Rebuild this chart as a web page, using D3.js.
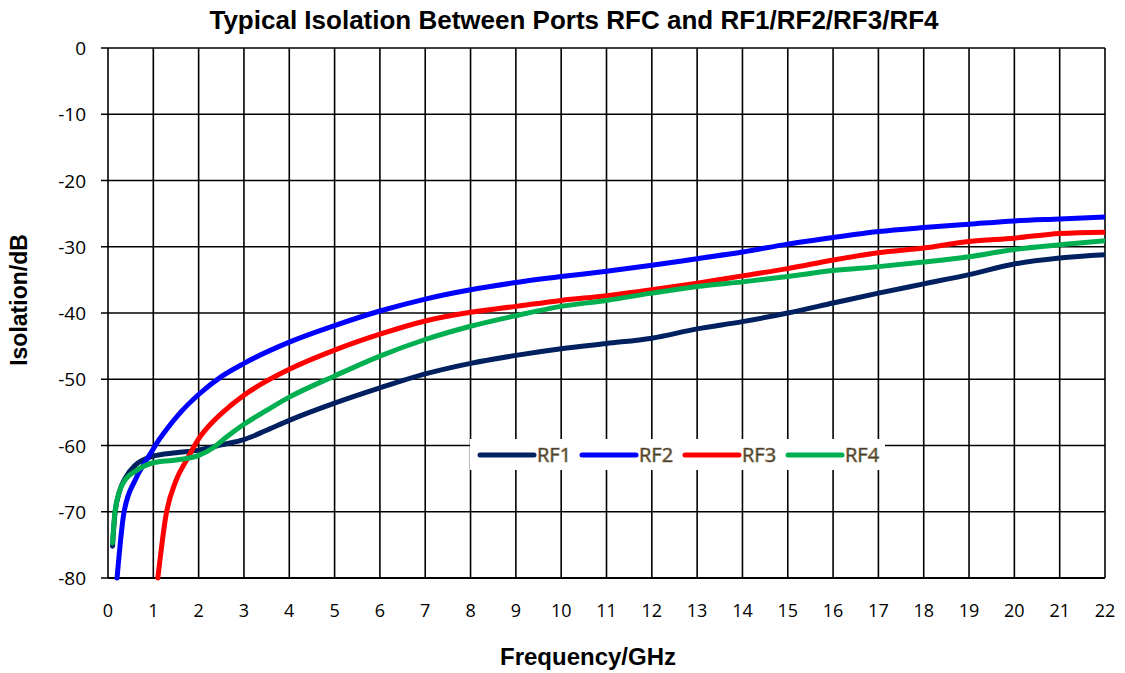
<!DOCTYPE html>
<html>
<head>
<meta charset="utf-8">
<script src="https://cdn.jsdelivr.net/npm/d3@7"></script>
<style>
  body { margin: 0; background: #fff; }
  svg { display: block; }
</style>
</head>
<body>
<svg id="chart" width="1125" height="673"></svg>
<script>
// frequency (GHz) / isolation (dB)
const rf1Freq = [0.1, 0.15, 0.25, 0.4, 0.6, 1, 1.5, 2, 2.5, 3, 3.5, 4, 5, 6, 7, 8, 9, 10, 11, 12, 13, 14, 15, 16, 17, 18, 19, 20, 21, 22];
const rf1Iso = [-75.2, -70.5, -67, -64.7, -63, -61.6, -61.1, -60.7, -59.9, -59.1, -57.7, -56.2, -53.6, -51.3, -49.2, -47.6, -46.4, -45.4, -44.6, -43.8, -42.4, -41.3, -40, -38.5, -37, -35.6, -34.2, -32.6, -31.7, -31.2];

const rf2Freq = [0.2, 0.35, 0.6, 0.84, 1, 1.15, 1.3, 1.6, 2, 2.5, 3, 4, 5, 6, 7, 8, 9, 10, 11, 12, 13, 14, 15, 16, 17, 18, 19, 20, 21, 22];
const rf2Iso = [-80, -70.2, -65.2, -62.3, -60.5, -58.9, -57.5, -55, -52.3, -49.6, -47.6, -44.4, -41.9, -39.7, -37.9, -36.5, -35.4, -34.5, -33.7, -32.8, -31.8, -30.8, -29.6, -28.6, -27.7, -27.1, -26.6, -26.1, -25.8, -25.5];

const rf3Freq = [1.1, 1.28, 1.5, 1.75, 2, 2.33, 2.7, 3, 4, 5, 6, 7, 8, 9, 10, 11, 12, 13, 14, 15, 16, 17, 18, 19, 20, 21, 22];
const rf3Iso = [-80, -70.5, -65.3, -62, -59, -56.3, -54, -52.4, -48.5, -45.6, -43.2, -41.2, -39.9, -39, -38.1, -37.4, -36.5, -35.5, -34.4, -33.3, -32, -30.9, -30.2, -29.2, -28.7, -28, -27.8];

const rf4Freq = [0.1, 0.15, 0.25, 0.4, 0.6, 1, 1.5, 2, 2.33, 2.6, 3, 3.5, 4, 5, 6, 7, 8, 9, 10, 11, 12, 13, 14, 15, 16, 17, 18, 19, 20, 21, 22];
const rf4Iso = [-74.7, -70.3, -67, -65, -63.9, -62.6, -62.2, -61.5, -60.3, -58.8, -56.8, -54.7, -52.7, -49.5, -46.5, -44, -42, -40.4, -39, -38.1, -37, -36, -35.3, -34.5, -33.6, -33, -32.3, -31.5, -30.4, -29.7, -29.1];

const seriesNames = ["RF1", "RF2", "RF3", "RF4"];
const seriesColors = ["#002060", "#0000ff", "#ff0000", "#00b050"];
const xTicks = d3.range(0, 23, 1);
const yTicks = [0, -10, -20, -30, -40, -50, -60, -70, -80];

const series = [
  {name: seriesNames[0], color: seriesColors[0], pts: rf1Freq.map((f, i) => [f, rf1Iso[i]])},
  {name: seriesNames[1], color: seriesColors[1], pts: rf2Freq.map((f, i) => [f, rf2Iso[i]])},
  {name: seriesNames[2], color: seriesColors[2], pts: rf3Freq.map((f, i) => [f, rf3Iso[i]])},
  {name: seriesNames[3], color: seriesColors[3], pts: rf4Freq.map((f, i) => [f, rf4Iso[i]])}
];

const svg = d3.select("#chart");
const plotLeft = 108, plotRight = 1105, plotTop = 48, plotBottom = 578;

const x = d3.scaleLinear().domain([0, 22]).range([plotLeft, plotRight]);
const y = d3.scaleLinear().domain([-80, 0]).range([plotBottom, plotTop]);

// grid
svg.append("g").selectAll("line").data(xTicks).join("line")
  .attr("x1", d => x(d)).attr("x2", d => x(d))
  .attr("y1", plotTop).attr("y2", plotBottom)
  .attr("stroke", "#000").attr("stroke-width", 1.6);
svg.append("g").selectAll("line").data(yTicks).join("line")
  .attr("x1", plotLeft - 7).attr("x2", plotRight)
  .attr("y1", d => y(d)).attr("y2", d => y(d))
  .attr("stroke", "#000").attr("stroke-width", 1.6);
svg.append("line")
  .attr("x1", plotLeft).attr("x2", plotRight).attr("y1", plotBottom).attr("y2", plotBottom)
  .attr("stroke", "#000").attr("stroke-width", 2.2);

// tick labels
const tickFont = "'Open Sans', 'Noto Sans', sans-serif";
svg.append("g").selectAll("text").data(yTicks).join("text")
  .attr("x", 86).attr("y", d => y(d) + 7)
  .attr("text-anchor", "end")
  .style("font-family", tickFont).style("font-size", "19px").attr("fill", "#000")
  .text(d => d);
svg.append("g").selectAll("text").data(xTicks).join("text")
  .attr("x", d => x(d)).attr("y", 617)
  .attr("text-anchor", "middle")
  .style("font-family", tickFont).style("font-size", "18px").attr("fill", "#000")
  .text(d => d);

// titles
const titleFont = "'Liberation Sans', Arial, sans-serif";
svg.append("text").attr("x", 574).attr("y", 29).attr("text-anchor", "middle")
  .style("font-family", titleFont).style("font-weight", "bold").style("font-size", "26px")
  .text("Typical Isolation Between Ports RFC and RF1/RF2/RF3/RF4");
svg.append("text").attr("x", 588).attr("y", 665).attr("text-anchor", "middle")
  .style("font-family", titleFont).style("font-weight", "bold").style("font-size", "24px")
  .text("Frequency/GHz");
svg.append("text").attr("transform", "translate(27,300) rotate(-90)").attr("text-anchor", "middle")
  .style("font-family", titleFont).style("font-weight", "bold").style("font-size", "23px")
  .text("Isolation/dB");

// curves
svg.append("clipPath").attr("id", "plotClip").append("rect")
  .attr("x", plotLeft).attr("y", plotTop).attr("width", plotRight - plotLeft).attr("height", plotBottom - plotTop + 3);

const line = d3.line()
  .x(d => x(d[0])).y(d => y(d[1]))
  .curve(d3.curveMonotoneX);

svg.append("g").attr("clip-path", "url(#plotClip)")
  .selectAll("path").data(series).join("path")
  .attr("fill", "none")
  .attr("stroke", d => d.color)
  .attr("stroke-width", 5)
  .attr("stroke-linecap", "round")
  .attr("stroke-linejoin", "round")
  .attr("d", d => line(d.pts));

// legend
const legend = svg.append("g");
legend.append("rect").attr("x", 470).attr("y", 439).attr("width", 415).attr("height", 31).attr("fill", "#fff");
const legendX = [480, 582, 685, 788];
series.forEach((s, i) => {
  legend.append("line")
    .attr("x1", legendX[i]).attr("x2", legendX[i] + 54)
    .attr("y1", 455).attr("y2", 455)
    .attr("stroke", s.color).attr("stroke-width", 5).attr("stroke-linecap", "round");
  legend.append("text")
    .attr("x", legendX[i] + 57).attr("y", 462)
    .style("font-family", tickFont).style("font-size", "20px")
    .attr("fill", "#2a2a2a").attr("stroke", "#8a7450").attr("stroke-width", 0.7)
    .text(s.name);
});
</script>
</body>
</html>
